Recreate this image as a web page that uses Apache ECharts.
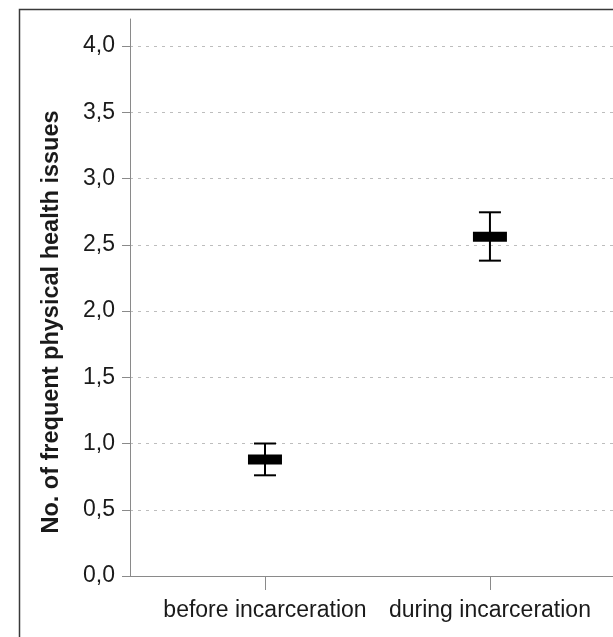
<!DOCTYPE html>
<html>
<head>
<meta charset="utf-8">
<script src="https://cdn.jsdelivr.net/npm/echarts@6/dist/echarts.min.js"></script>
<style>
html,body{margin:0;padding:0;background:#fff;}
#chart{width:613px;height:637px;}
</style>
</head>
<body>
<div id="chart"></div>
<script>
// Data
var categories = ['before incarceration', 'during incarceration'];
var categoryPositions = [1, 2];
var means = [0.88, 2.56];
var lowerCI = [0.76, 2.38];
var upperCI = [1.00, 2.745];
var yTickValues = [0, 0.5, 1.0, 1.5, 2.0, 2.5, 3.0, 3.5, 4.0];
var yAxisTitle = 'No. of frequent physical health issues';

var seriesData = categories.map(function (c, i) {
  return [categoryPositions[i], means[i], lowerCI[i], upperCI[i]];
});

var chart = echarts.init(document.getElementById('chart'), null, {renderer: 'canvas'});
var FONT = '"Liberation Sans", Arial, sans-serif';
var AXIS_COLOR = '#8a8a8a';

var option = {
  animation: false,
  backgroundColor: '#fff',
  graphic: [{
    type: 'rect',
    left: 17, top: 7,
    shape: {width: 700, height: 700},
    style: {fill: 'none', stroke: '#3a3a3a', lineWidth: 1.5},
    silent: true,
    z: 0
  }],
  grid: [
    {left: 130, top: 46, right: 0, height: 530},
    {left: 130, top: 19, right: 0, height: 557}
  ],
  xAxis: [{
    type: 'value',
    gridIndex: 0,
    min: 0.4, max: 2.547,
    axisLine: {show: true, onZero: false, lineStyle: {color: AXIS_COLOR, width: 1}},
    axisTick: {show: true, customValues: categoryPositions, length: 14, lineStyle: {color: AXIS_COLOR}},
    axisLabel: {
      show: true,
      customValues: categoryPositions,
      margin: 23,
      fontFamily: FONT, fontSize: 23, color: '#1a1a1a',
      formatter: function (v) {
        var idx = categoryPositions.indexOf(v);
        return idx >= 0 ? categories[idx] : '';
      }
    },
    splitLine: {show: false}
  }, {
    type: 'value', gridIndex: 1, min: 0, max: 1, show: false
  }],
  yAxis: [{
    type: 'value',
    gridIndex: 0,
    min: 0, max: 4, interval: 0.5,
    axisLine: {show: true, lineStyle: {color: AXIS_COLOR, width: 1}},
    axisTick: {show: true, length: 8, lineStyle: {color: AXIS_COLOR}},
    axisLabel: {
      margin: 15,
      fontFamily: FONT, fontSize: 23, color: '#1a1a1a',
      formatter: function (v) { return v.toFixed(1).replace('.', ','); }
    },
    splitLine: {show: true, lineStyle: {color: '#bdbdbd', type: [3, 5], width: 1}},
    name: yAxisTitle,
    nameLocation: 'middle',
    nameGap: 66,
    nameRotate: 90,
    nameTextStyle: {fontFamily: FONT, fontSize: 23.5, fontWeight: 'bold', color: '#1a1a1a', padding: [0, 22, 0, 0]}
  }, {
    type: 'value',
    gridIndex: 1,
    min: 0, max: 1,
    axisLine: {show: true, lineStyle: {color: AXIS_COLOR, width: 1}},
    axisTick: {show: false},
    axisLabel: {show: false},
    splitLine: {show: false}
  }],
  series: [{
    type: 'custom',
    xAxisIndex: 0,
    yAxisIndex: 0,
    data: seriesData,
    encode: {x: 0, y: [1, 2, 3]},
    renderItem: function (params, api) {
      var x = api.value(0);
      var pMean = api.coord([x, api.value(1)]);
      var pLow = api.coord([x, api.value(2)]);
      var pHigh = api.coord([x, api.value(3)]);
      var capHalf = 11;
      var boxHalfW = 17;
      var boxHalfH = 5;
      var lineStyle = {stroke: '#000', lineWidth: 2};
      return {
        type: 'group',
        children: [
          {type: 'line', shape: {x1: pLow[0], y1: pLow[1], x2: pHigh[0], y2: pHigh[1]}, style: lineStyle},
          {type: 'line', shape: {x1: pLow[0] - capHalf, y1: pLow[1], x2: pLow[0] + capHalf, y2: pLow[1]}, style: lineStyle},
          {type: 'line', shape: {x1: pHigh[0] - capHalf, y1: pHigh[1], x2: pHigh[0] + capHalf, y2: pHigh[1]}, style: lineStyle},
          {type: 'rect', shape: {x: pMean[0] - boxHalfW, y: pMean[1] - boxHalfH, width: boxHalfW * 2, height: boxHalfH * 2}, style: {fill: '#000'}}
        ]
      };
    }
  }]
};
chart.setOption(option);
</script>
</body>
</html>
